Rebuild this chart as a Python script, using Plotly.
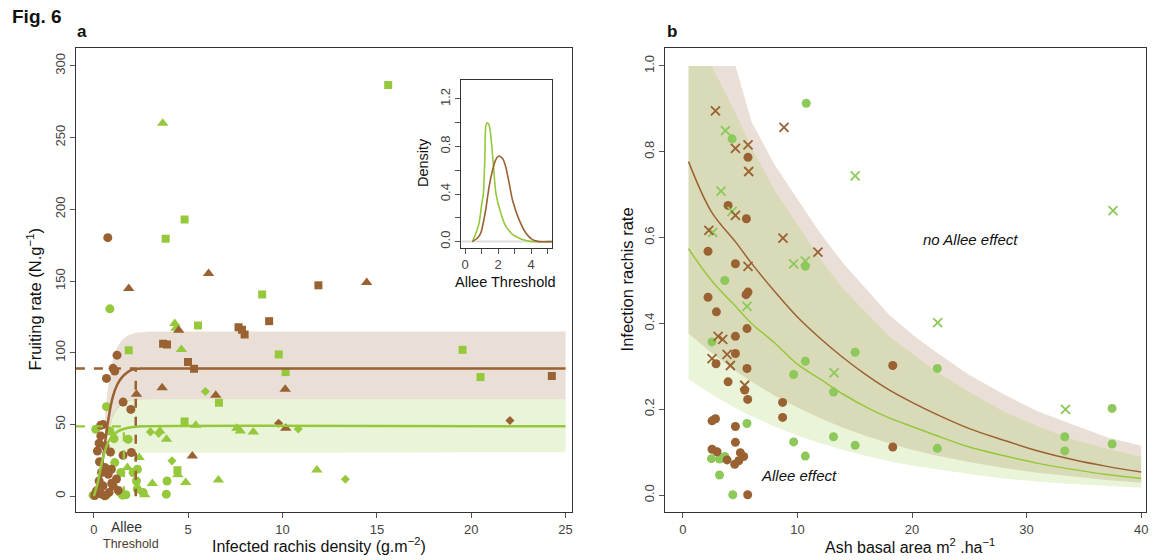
import plotly.graph_objects as go

W, H = 1157, 560
def PX(x): return x / W
def PY(y): return 1 - y / H

BROWN = "#9a6232"
GREEN_A = "#96c83c"
GREEN_B = "#8cc85a"
BROWN_FILL = "rgba(160,110,70,0.22)"
GREEN_FILL = "rgba(150,200,60,0.20)"
FONT = "Liberation Sans, Arial, sans-serif"

# ---------------- Panel a data ----------------
bc_x = [0.74, 1.23, 1.02, 1.11, 0.67, 1.55, 1.96, 0.37, 0.49, 0.37, 0.28, 0.88, 0.19, 1.55, 1.99, 0.58, 0.93, 0.41, 0.76, 0.28, 0.49, 0.14, 0.41, 0.81, 1.02, 0.58, 0.05, 1.2, 0.3, 1.3, 0.6, 0.95]
bc_y = [180.2, 98.3, 89.1, 87.2, 82.1, 65.6, 60.5, 49.4, 49.9, 42, 36.9, 30.8, 31.5, 28.5, 30.4, 20, 18.8, 16.5, 15.3, 10.6, 7.2, 3.7, 1.4, 2.6, 7.2, 0.2, 0.5, 12, 24, 4, 35, 9]
bt_x = [1.85, 6.08, 14.46, 4.5, 2.26, 3.62, 6.46, 10.14, 10.17, 5.22]
bt_y = [144.7, 155.2, 149, 115.7, 71, 75.6, 70.3, 74.5, 47.3, 28]
bs_x = [11.9, 9.29, 7.67, 7.99, 7.85, 3.67, 3.88, 4.99, 5.31, 24.27]
bs_y = [147, 122, 117.8, 112.7, 116, 106.2, 105.8, 93.5, 88.9, 83.7]
bd_x = [9.79, 22.05]
bd_y = [50.8, 52.7]
gc_x = [0.85, 0.67, 0.1, 0.85, 1.07, 1.82, 1.11, 1.43, 2.08, 2.31, 3.88, 2.26, -0.04, 0.67, 1.38, 1.52, 2.61, 3.84, 1.7, 2.3]
gc_y = [130.6, 62.4, 46.6, 45.4, 40.1, 39.7, 23.4, 16.5, 16.5, 18.8, 10.6, 10.6, 0.7, 0.7, 2.6, 0.7, 2.6, 1.4, 1.0, 5.0]
gt_x = [3.65, 4.29, 4.64, 5.4, 3.85, 7.58, 7.76, 8.45, 11.82, 6.6, 4.87, 3.1, 1.78, 2.7, 2.4, 3.5, 4.35, 4.45]
gt_y = [260, 120.4, 102.3, 49.4, 39.7, 47.3, 45.4, 44.8, 18.3, 11.3, 9.5, 8.8, 20, 0.9, 26.9, 45.5, 117, 15]
gs_x = [15.6, 4.81, 3.81, 8.92, 5.52, 1.85, 9.8, 10.16, 6.63, 4.81, 4.43, 19.54, 20.49]
gs_y = [286.7, 192.8, 179.5, 140.6, 119, 101.8, 98.8, 86.5, 65.2, 52, 18.1, 102, 83]
gd_x = [5.91, 3.0, 3.44, 10.83, 13.33, 4.14]
gd_y = [73, 44.8, 43.8, 46.8, 11.8, 24.6]

# fitted curves
bcurve_x = [0, 0.25, 0.5, 0.75, 1.0, 1.25, 1.5, 1.75, 2.0, 2.5, 3.0, 25]
bcurve_y = [0, 6, 28, 52, 69, 78, 83, 86, 88, 89, 89, 89]
gcurve_x = [0, 0.2, 0.4, 0.6, 0.8, 1.0, 1.25, 1.5, 2.0, 2.5, 25]
gcurve_y = [0, 9, 22, 32, 38.5, 42, 45, 46.5, 48, 48.7, 48.7]
bband_x = [0.6, 0.8, 1.0, 1.2, 1.5, 1.8, 2.2, 3.0, 25]
bband_hi = [60, 80, 95, 103, 109, 112, 114, 114.8, 114.8]
bband_lo = [30, 45, 55, 60, 64, 66, 67, 67.5, 67.5]
gband_x = [0.85, 1.0, 1.2, 1.5, 1.8, 2.2, 3.0, 25]
gband_hi = [50, 57, 61.5, 65, 66.5, 67.3, 67.5, 67.5]
gband_lo = [25, 28, 29.5, 30.2, 30.5, 30.6, 30.6, 30.6]
b_plateau, g_plateau = 89, 48.7
b_thresh, g_thresh = 2.22, 1.59

# inset densities
gdens_x = [0.44, 0.65, 0.85, 0.99, 1.11, 1.19, 1.25, 1.35, 1.45, 1.56, 1.72, 1.86, 2.16, 2.46, 2.87, 3.47, 4.08, 5.2]
gdens_y = [0, 0.07, 0.157, 0.3, 0.41, 0.69, 0.97, 1.0, 0.98, 0.885, 0.63, 0.41, 0.24, 0.13, 0.06, 0.017, 0.0, 0.0]
bdens_x = [0.44, 0.75, 0.95, 1.25, 1.45, 1.66, 1.86, 2.06, 2.26, 2.46, 2.67, 2.87, 3.27, 3.68, 4.08, 4.48, 5.3]
bdens_y = [0, 0.03, 0.073, 0.27, 0.46, 0.6, 0.69, 0.72, 0.70, 0.63, 0.49, 0.35, 0.185, 0.073, 0.017, 0, 0]

# ---------------- Panel b data ----------------
bX_x = [2.85, 4.59, 5.69, 5.75, 8.83, 4.59, 2.27, 8.74, 11.79, 5.69, 3.08, 3.48, 3.86, 2.55, 4.15, 5.4]
bX_y = [0.895, 0.808, 0.816, 0.754, 0.857, 0.652, 0.617, 0.599, 0.566, 0.533, 0.37, 0.363, 0.328, 0.318, 0.302, 0.256]
gX_x = [3.72, 3.34, 4.3, 2.61, 9.67, 10.69, 5.6, 13.2, 15.04, 37.54, 22.24, 33.39]
gX_y = [0.849, 0.708, 0.661, 0.612, 0.539, 0.545, 0.44, 0.285, 0.744, 0.663, 0.402, 0.2]
bC_x = [5.69, 3.95, 5.55, 2.2, 4.59, 5.69, 5.52, 2.2, 2.93, 5.6, 4.59, 4.59, 2.9, 5.6, 3.95, 5.4, 5.66, 8.71, 8.71, 2.55, 2.85, 4.59, 4.59, 2.55, 2.99, 3.86, 5.02, 5.31, 4.88, 4.53, 5.66, 18.32, 18.32]
bC_y = [0.787, 0.675, 0.644, 0.568, 0.539, 0.473, 0.467, 0.461, 0.427, 0.388, 0.37, 0.33, 0.306, 0.295, 0.264, 0.245, 0.223, 0.216, 0.181, 0.173, 0.178, 0.16, 0.123, 0.107, 0.101, 0.082, 0.099, 0.09, 0.08, 0.072, 0.001, 0.302, 0.112]
gC_x = [4.3, 10.77, 10.69, 3.66, 2.55, 10.69, 9.67, 13.15, 15.04, 5.6, 9.67, 13.15, 15.04, 10.69, 2.5, 3.2, 3.66, 3.2, 4.36, 22.21, 37.46, 33.33, 33.33, 37.46, 22.21]
gC_y = [0.83, 0.913, 0.533, 0.5, 0.357, 0.312, 0.281, 0.24, 0.333, 0.167, 0.124, 0.136, 0.116, 0.091, 0.085, 0.084, 0.09, 0.047, 0.001, 0.295, 0.202, 0.136, 0.103, 0.119, 0.109]

ash_x = [0.5, 2.5, 4.6, 6, 8, 10, 12, 14, 16, 18, 20, 22, 25, 28, 31, 34, 37, 40]
b_line = [0.777, 0.66, 0.59, 0.54, 0.475, 0.415, 0.365, 0.32, 0.28, 0.245, 0.216, 0.19, 0.155, 0.128, 0.103, 0.083, 0.067, 0.054]
g_line = [0.574, 0.50, 0.44, 0.40, 0.355, 0.305, 0.27, 0.235, 0.205, 0.18, 0.16, 0.14, 0.112, 0.092, 0.074, 0.06, 0.048, 0.039]
b_hi = [1.0, 1.0, 1.0, 0.87, 0.77, 0.69, 0.61, 0.54, 0.48, 0.42, 0.375, 0.335, 0.28, 0.235, 0.195, 0.165, 0.135, 0.115]
b_lo = [0.377, 0.331, 0.289, 0.264, 0.232, 0.204, 0.179, 0.157, 0.138, 0.121, 0.106, 0.093, 0.077, 0.063, 0.052, 0.043, 0.035, 0.029]
g_hi = [1.0, 1.0, 0.89, 0.81, 0.71, 0.63, 0.55, 0.48, 0.425, 0.37, 0.33, 0.29, 0.24, 0.195, 0.16, 0.13, 0.108, 0.089]
g_lo = [0.27, 0.235, 0.203, 0.184, 0.16, 0.139, 0.121, 0.105, 0.091, 0.079, 0.069, 0.06, 0.049, 0.039, 0.032, 0.026, 0.021, 0.017]

fig = go.Figure()

def band(x, hi, lo, color, xa, ya):
    fig.add_trace(go.Scatter(x=list(x) + list(x)[::-1], y=list(hi) + list(lo)[::-1],
                             fill="toself", fillcolor=color, mode="lines",
                             line=dict(width=0, color=color), hoverinfo="skip",
                             showlegend=False, xaxis=xa, yaxis=ya))

def pts(x, y, color, symbol, size, xa, ya, line=None):
    m = dict(color=color, symbol=symbol, size=size)
    m["line"] = line if line else dict(width=0)
    fig.add_trace(go.Scatter(x=x, y=y, mode="markers", marker=m, showlegend=False,
                             xaxis=xa, yaxis=ya))

# Panel a
band(bband_x, bband_hi, bband_lo, BROWN_FILL, "x", "y")
band(gband_x, gband_hi, gband_lo, GREEN_FILL, "x", "y")
for xs, ys, col, sym, sz in [
    (gc_x, gc_y, GREEN_A, "circle", 9), (gt_x, gt_y, GREEN_A, "triangle-up", 10),
    (gs_x, gs_y, GREEN_A, "square", 8), (gd_x, gd_y, GREEN_A, "diamond", 7),
    (bc_x, bc_y, BROWN, "circle", 9), (bt_x, bt_y, BROWN, "triangle-up", 10),
    (bs_x, bs_y, BROWN, "square", 8), (bd_x, bd_y, BROWN, "diamond", 7)]:
    pts(xs, ys, col, sym, sz, "x", "y")
fig.add_trace(go.Scatter(x=bcurve_x, y=bcurve_y, mode="lines", line=dict(color=BROWN, width=2.5, shape="spline", smoothing=0.6), showlegend=False, xaxis="x", yaxis="y"))
fig.add_trace(go.Scatter(x=gcurve_x, y=gcurve_y, mode="lines", line=dict(color=GREEN_A, width=2.5, shape="spline", smoothing=0.6), showlegend=False, xaxis="x", yaxis="y"))
fig.add_trace(go.Scatter(x=[-0.95, b_thresh, b_thresh], y=[b_plateau, b_plateau, 0], mode="lines", line=dict(color=BROWN, width=2.5, dash="dash"), showlegend=False, xaxis="x", yaxis="y"))
fig.add_trace(go.Scatter(x=[-0.95, g_thresh, g_thresh], y=[g_plateau, g_plateau, 0], mode="lines", line=dict(color=GREEN_A, width=2.2, dash="dash"), showlegend=False, xaxis="x", yaxis="y"))

# Inset
fig.add_trace(go.Scatter(x=[-0.24, 5.27], y=[0, 0], mode="lines", line=dict(color="#dddddd", width=2), showlegend=False, xaxis="x3", yaxis="y3"))
fig.add_trace(go.Scatter(x=gdens_x, y=gdens_y, mode="lines", line=dict(color=GREEN_A, width=1.6, shape="spline", smoothing=0.5), showlegend=False, xaxis="x3", yaxis="y3"))
fig.add_trace(go.Scatter(x=bdens_x, y=bdens_y, mode="lines", line=dict(color=BROWN, width=1.6, shape="spline", smoothing=0.5), showlegend=False, xaxis="x3", yaxis="y3"))

# Panel b
band(ash_x, b_hi, b_lo, BROWN_FILL, "x2", "y2")
band(ash_x, g_hi, g_lo, GREEN_FILL, "x2", "y2")
fig.add_trace(go.Scatter(x=ash_x, y=b_line, mode="lines", line=dict(color=BROWN, width=1.5, shape="spline"), showlegend=False, xaxis="x2", yaxis="y2"))
fig.add_trace(go.Scatter(x=ash_x, y=g_line, mode="lines", line=dict(color=GREEN_A, width=1.5, shape="spline"), showlegend=False, xaxis="x2", yaxis="y2"))
pts(gC_x, gC_y, GREEN_B, "circle", 9, "x2", "y2")
pts(bC_x, bC_y, BROWN, "circle", 9, "x2", "y2")
pts(gX_x, gX_y, GREEN_B, "x-thin", 9, "x2", "y2", line=dict(width=1.8, color=GREEN_B))
pts(bX_x, bX_y, BROWN, "x-thin", 9, "x2", "y2", line=dict(width=1.8, color=BROWN))

ax_common = dict(showline=True, mirror=True, linecolor="#333", linewidth=1, ticks="outside",
                 ticklen=5, tickcolor="#555", showgrid=False, zeroline=False,
                 tickfont=dict(family=FONT, size=13, color="#444"))
minor_style = dict(ticks="outside", ticklen=5, tickcolor="#555", showgrid=False)

fig.update_layout(
    width=W, height=H, margin=dict(l=0, r=0, t=0, b=0),
    paper_bgcolor="white", plot_bgcolor="rgba(0,0,0,0)",
    xaxis=dict(domain=[PX(76), PX(573)], range=[-0.952, 25.34], tickvals=[0, 5, 10, 15, 20, 25], anchor="y", **ax_common),
    yaxis=dict(domain=[PY(513), PY(48)], range=[-11.1, 312.5], tickvals=[0, 50, 100, 150, 200, 250, 300], tickangle=-90, anchor="x", **ax_common),
    xaxis2=dict(domain=[PX(666), PX(1148)], range=[-1.568, 40.42], tickvals=[0, 10, 20, 30, 40], anchor="y2", **ax_common),
    yaxis2=dict(domain=[PY(513), PY(48)], range=[-0.0395, 1.0419], tickvals=[0, 0.2, 0.4, 0.6, 0.8, 1.0],
                ticktext=["0.0", "0.2", "0.4", "0.6", "0.8", "1.0"], tickangle=-90, anchor="x2", **ax_common),
    xaxis3=dict(domain=[PX(462), PX(553)], range=[-0.24, 5.27], tickvals=[0, 2, 4],
                minor=dict(tickvals=[1, 3, 5], **minor_style), anchor="y3", **ax_common),
    yaxis3=dict(domain=[PY(248), PY(80)], range=[-0.05, 1.36], tickvals=[0, 0.4, 0.8, 1.2],
                ticktext=["0.0", "0.4", "0.8", "1.2"], minor=dict(tickvals=[0.2, 0.6, 1.0], **minor_style),
                tickangle=-90, anchor="x3", **ax_common),
)

def ann(text, x, y, size=15, color="#111", bold=False, italic=False, angle=0, xanchor="center"):
    if bold:
        text = "<b>" + text + "</b>"
    if italic:
        text = "<i>" + text + "</i>"
    fig.add_annotation(text=text, x=PX(x), y=PY(y), xref="paper", yref="paper", showarrow=False,
                       font=dict(family=FONT, size=size, color=color), textangle=angle,
                       xanchor=xanchor, yanchor="middle")

ann("Fig. 6", 37, 17, size=19, bold=True)
ann("a", 82, 32, size=17, bold=True)
ann("b", 673, 32, size=17, bold=True)
ann("Fruiting rate (N.g<sup>−1</sup>)", 35, 300, size=16.5, angle=-90)
ann("Infected rachis density (g.m<sup>−2</sup>)", 320, 546, size=16)
ann("Allee", 127, 528, size=14, color="#333")
ann("Threshold", 131, 545, size=12.5, color="#4d3b2e")
ann("Density", 423, 163, size=14.5, angle=-90)
ann("Allee Threshold", 506, 283, size=14.5)
ann("Infection rachis rate", 628, 280, size=16.5, angle=-90)
ann("Ash basal area m<sup>2</sup> .ha<sup>−1</sup>", 912, 547, size=16)
ann("no Allee effect", 972, 240, size=15, italic=True)
ann("Allee effect", 800, 476, size=15, italic=True)

fig.write_html("out.html", config={"displayModeBar": False},
               post_script="document.body.style.margin='0';document.body.style.padding='0';")
